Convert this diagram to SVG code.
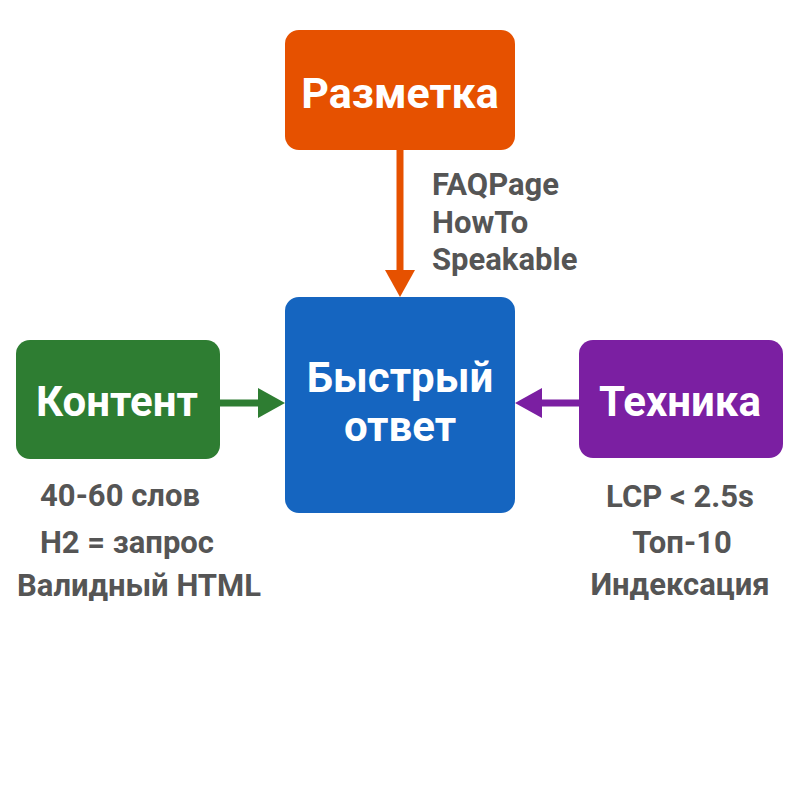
<svg xmlns="http://www.w3.org/2000/svg" width="800" height="800" viewBox="0 0 800 800">
<style>
.t{font-family:Roboto,"Liberation Sans",sans-serif;font-weight:bold;fill:#fff;text-anchor:middle}
.l{font-family:Roboto,"Liberation Sans",sans-serif;font-weight:bold;fill:#555;font-size:31px}
.c{text-anchor:middle}
</style>
<rect width="800" height="800" fill="#fff"/>
<g id="connectors">
<line x1="400" y1="150" x2="400" y2="272" stroke="#E65100" stroke-width="7"/>
<polygon points="385,270 415,270 400,297" fill="#E65100"/>
<line x1="220" y1="403" x2="260" y2="403" stroke="#2E7D32" stroke-width="7"/>
<polygon points="258,388 258,418 285,403" fill="#2E7D32"/>
<line x1="579" y1="403" x2="540" y2="403" stroke="#7B1FA2" stroke-width="7"/>
<polygon points="542,388 542,418 515,403" fill="#7B1FA2"/>
</g>
<g id="markup">
<rect x="285" y="30" width="230" height="120" rx="14" fill="#E65100"/>
<text class="t" x="400" y="108" font-size="43">Разметка</text>
<text class="l" x="432" y="195">FAQPage</text>
<text class="l" x="432" y="233">HowTo</text>
<text class="l" x="432" y="270">Speakable</text>
</g>
<g id="answer">
<rect x="285" y="297" width="230" height="216" rx="14" fill="#1565C0"/>
<text class="t" x="400" y="392" font-size="42">Быстрый</text>
<text class="t" x="400" y="441" font-size="42">ответ</text>
</g>
<g id="content">
<rect x="16" y="340" width="204" height="119" rx="14" fill="#2E7D32"/>
<text class="t" x="117" y="416" font-size="42">Контент</text>
<text class="l c" x="120" y="506">40-60 слов</text>
<text class="l c" x="127" y="553">H2 = запрос</text>
<text class="l c" x="139" y="596">Валидный HTML</text>
</g>
<g id="tech">
<rect x="579" y="340" width="204" height="118" rx="14" fill="#7B1FA2"/>
<text class="t" x="680" y="416" font-size="42">Техника</text>
<text class="l c" x="680" y="507">LCP &lt; 2.5s</text>
<text class="l c" x="682" y="553">Топ-10</text>
<text class="l c" x="680" y="595">Индексация</text>
</g>
</svg>
